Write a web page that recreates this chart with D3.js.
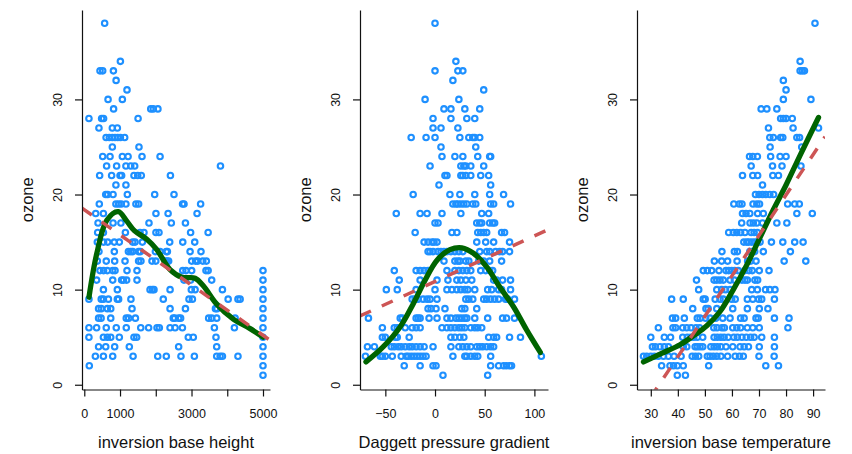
<!DOCTYPE html>
<html>
<head>
<meta charset="utf-8">
<script src="https://cdn.jsdelivr.net/npm/d3@7"></script>
<style>
body { margin: 0; background: #fff; }
text { font-family: "Liberation Sans", Arial, Helvetica, sans-serif; fill: #111; }
</style>
</head>
<body>
<script>
// each row: [ozone, [predictor values seen at that ozone level]]
var ibhRows = [
  [38, [570]], [34, [1010]], [33, [440, 515, 815]], [32, [890]], [31, [1195]],
  [30, [665, 1065]], [29, [820, 1860, 1930, 2060]], [28, [130, 485, 540, 1505]],
  [27, [410, 785, 925]], [26, [610, 700, 785, 860, 935, 1010, 1130]], [25, [785, 1530]],
  [24, [515, 720, 1065, 1225, 1615, 2120]], [23, [625, 905, 1165, 1300, 1410, 3810]],
  [22, [430, 765, 1000, 1045, 1390, 1495, 1595, 2410]], [21, [885, 1165]],
  [20, [600, 655, 805, 1205, 1970, 2510]],
  [19, [420, 885, 960, 1035, 1165, 1445, 1520, 2750, 2790, 3255]],
  [18, [320, 535, 2005, 2345, 3155]],
  [17, [385, 805, 1025, 1810, 2435, 2830]],
  [16, [375, 535, 1150, 1560, 1670, 2005, 2090, 2975, 3465]],
  [15, [365, 540, 655, 840, 980, 1355, 1420, 1625, 2390, 2755, 3090]],
  [14, [410, 840, 1235, 1300, 1355, 1520, 1570, 1990, 2120, 2295, 2325, 2960, 3265]],
  [13, [365, 615, 850, 1140, 1520, 1585, 1895, 2000, 2270, 2315, 2360, 3005, 3115, 3175, 3315, 3415]],
  [12, [440, 540, 645, 795, 860, 1195, 1475, 2755, 2845, 3005, 3405, 3465, 5000]],
  [11, [345, 795, 1045, 1095, 1185, 1475, 2790, 2975, 3565, 5000]],
  [10, [535, 925, 1840, 1905, 1950, 2400, 2995, 3100, 3865, 5000]],
  [9, [130, 475, 535, 675, 925, 960, 1305, 2210, 2930, 3025, 4025, 4300, 4360, 5000]],
  [8, [400, 475, 645, 740, 1335, 2400, 2830, 3670, 3715, 5000]],
  [7, [400, 470, 740, 1175, 1240, 1430, 2490, 2530, 2640, 2695, 3480, 3565, 3705, 4220, 5000]],
  [6, [130, 345, 615, 895, 1175, 1580, 1800, 2035, 2100, 2400, 2540, 2745, 3640, 4200, 5000]],
  [5, [130, 535, 645, 740, 980, 1390, 1465, 2910, 3050, 3685, 5000]],
  [4, [400, 600, 850, 1260, 2640, 3705, 5000]],
  [3, [310, 535, 795, 1365, 2055, 2295, 2705, 3080, 3705, 3800, 3865, 4300, 5000]],
  [2, [140, 5000]], [1, [5000]]
];

var dpgRows = [
  [38, [0]], [34, [21]], [33, [0, 23, 28]], [32, [18]], [31, [49]], [30, [-10, 24]],
  [29, [9, 16, 30, 45]], [28, [-2, 16, 32, 40]], [27, [-2, 6, 23]],
  [26, [-24, -9, 0, 25, 34, 38, 40, 45]], [25, [6, 41]], [24, [7, 20, 28, 43, 55, 56]],
  [23, [-5, 26, 29, 31, 36, 49]], [22, [10, 12, 26, 28, 31, 36, 46, 54]], [21, [4, 56]],
  [20, [-22, 15, 25, 40, 55, 69]],
  [19, [18, 21, 23, 26, 29, 32, 38, 41, 56, 59, 76]],
  [18, [-39, -15, -8, 7, 26, 47, 54]],
  [17, [0, 3, 42, 45, 47, 55, 58, 60]],
  [16, [-20, 17, 22, 43, 46, 49, 52, 67, 70]],
  [15, [-11, -7, -3, -1, 2, 42, 51, 59, 75]],
  [14, [-7, -5, -2, 3, 6, 9, 12, 16, 20, 24, 28, 45, 52, 55, 61, 65, 68, 75]],
  [13, [9, 20, 23, 25, 31, 34, 44, 49, 55, 67]],
  [12, [-41, -19, -15, -11, -7, 12, 20, 24, 28, 32, 36, 46, 51, 55, 58]],
  [11, [-36, -15, 2, 13, 22, 26, 31, 37, 59, 62, 68, 76]],
  [10, [-49, -38, -19, 0, 12, 17, 22, 26, 30, 33, 40, 53, 57, 64, 67, 76]],
  [9, [-23, -20, -17, -12, -8, -5, 2, 31, 34, 38, 49, 52, 56, 60, 64, 71, 73, 80]],
  [8, [-7, -4, 1, 10, 27, 30, 42]],
  [7, [-67, -35, -33, -19, -17, -15, -6, 2, 12, 16, 21, 24, 27, 30, 32, 40, 53, 68, 72, 80]],
  [6, [-53, -41, -38, -30, -23, -19, -15, 7, 12, 16, 20, 24, 27, 30, 36, 40, 43, 47]],
  [5, [-53, -50, -40, -38, -26, 16, 20, 25, 29, 54, 59, 62, 75, 86]],
  [4, [-68, -61, -44, -41, -37, -34, -30, -26, -23, -19, -15, -11, -2, 16, 24, 28, 32, 36, 42, 45, 48, 52, 56, 59]],
  [3, [-70, -55, -53, -50, -43, -34, -29, -27, -24, -21, -18, -15, -12, -9, 18, 30, 32, 36, 40, 43, 56, 107]],
  [2, [-31, -15, -2, 1, 56, 64, 69, 72, 75, 77]],
  [1, [8, 53]]
];

var ibtRows = [
  [38, [90.7]], [34, [85.2]], [33, [85.2, 86, 86.8]], [32, [79]], [31, [80]], [30, [79, 89.2]],
  [29, [70.8, 72.9, 76.6]], [28, [78, 79, 80, 82.3]], [27, [73.5, 82.6, 92]],
  [26, [74, 75.3, 78, 78.8, 84, 85]], [25, [74.1, 85.8]],
  [24, [66.5, 67.7, 69.4, 74.3, 77.8, 80]], [23, [67.1, 75, 78.5, 85.5]],
  [22, [63.9, 67.7, 69.5, 75.1, 77.2]], [21, [71.3]],
  [20, [68.7, 70, 71.3, 72.5, 74, 75.4]],
  [19, [60.7, 62.7, 63.7, 67.8, 69.2, 70.2, 80.6, 83.2, 84.9]],
  [18, [63.9, 65.2, 66.6, 69.5, 71.6, 84, 89.7]],
  [17, [63.6, 66.7, 67.9, 69.2, 71.3, 76.6, 80.3]],
  [16, [58.8, 60.5, 61.8, 63.2, 64.8, 67.1, 68.2, 69.4]],
  [15, [64.4, 65.5, 66.2, 67.3, 68.4, 69.4, 70.4, 74.6, 78.8, 83.2, 86.3]],
  [14, [56.3, 60.9, 62, 66.6, 67.4, 68.4, 71.6, 81.6]],
  [13, [53.5, 56.2, 58.4, 61.9, 65.8, 66.9, 68.9, 79.3, 87.3]],
  [12, [49.4, 50.9, 52.5, 55.2, 57.8, 58.8, 59.9, 61, 62.3, 64.7, 66.3, 67.5, 70.1, 73.7]],
  [11, [46.9, 53.4, 54.4, 55.6, 56.8, 59.3, 60.9, 63.7, 64.8, 65.7, 68.5, 69.5]],
  [10, [47.7, 54.4, 56.2, 57.6, 59.3, 67.3, 69.4, 72.4, 74, 75.9]],
  [9, [37.7, 42, 49.4, 50.1, 53.8, 55.6, 56.8, 59.9, 61.2, 65.7, 67.7, 69.9, 71, 75.7]],
  [8, [45.5, 50.4, 51.2, 54.4, 60.3, 65.7, 70.1, 73.3]],
  [7, [38, 39.2, 42.4, 47.2, 48.2, 50.3, 51.9, 54, 56.6, 59.3, 63.2, 64.5, 68.9, 69.7, 75.7, 81.1]],
  [6, [32.8, 38.2, 39.2, 41.8, 43.3, 44.9, 46.7, 48, 53.3, 54.5, 56.3, 57.2, 60.3, 61.8, 63.2, 65.7, 67.7, 70.1, 80.7]],
  [5, [30, 35, 37.3, 41.8, 43.5, 44.8, 45.9, 47.2, 49.2, 53.4, 54.6, 55.9, 57.1, 58.6, 60.7, 62, 63.7, 65.3, 66.9, 68.2, 71, 75.7]],
  [4, [30.6, 31.7, 33.4, 35, 36.5, 42, 43.3, 46.4, 47.2, 48.2, 49.2, 52.2, 53.4, 54.6, 55.9, 57.8, 60.3, 63, 64.5, 66.1, 70.1, 75.7]],
  [3, [27.3, 28.5, 30, 31.3, 32.8, 34.7, 36.5, 38.6, 41.2, 45.3, 46.5, 47.7, 50.9, 51.9, 53.1, 54.4, 55.9, 58.4, 61.2, 62.8, 64.2, 70, 75.6]],
  [2, [34, 37.1, 38.4, 39.8, 42, 51.4, 72.5, 77.2]],
  [1, [39.8, 42.8]]
];

// smooth fits (green)
var ibhSmooth = [[131, 9.2], [350, 13.8], [630, 17.3], [950, 18.2], [1190, 17.2], [1400, 16.2],
  [1750, 15.3], [2030, 14.2], [2400, 12.1], [2730, 11.3], [3100, 11.2], [3330, 10.4],
  [3700, 8.5], [4170, 6.9], [4640, 5.9], [5000, 5.0]];
var dpgSmooth = [[-69.5, 2.4], [-52, 4.0], [-35, 6.1], [-22, 8.5], [-10, 11], [2, 13.1],
  [15, 14.2], [27, 14.4], [39, 13.8], [52, 12.4], [65, 10.3], [79, 8.2], [92, 5.8], [106, 3.4]];
var ibtSmooth = [[27.3, 2.4], [34, 3.3], [40.8, 4.2], [46, 5.2], [50.7, 6.2], [55.6, 7.7],
  [60.5, 10], [65.5, 12.6], [70.4, 15.5], [75.3, 18.4], [80, 21], [85.5, 24.3], [92, 28.1]];

// least squares lines (red dashed): [intercept, slope]
var ibhFit = [18.4, -0.00264];
var dpgFit = [10.85, 0.048];
var ibtFit = [-14.05, 0.425];

var yTicks = [0, 10, 20, 30];

var panels = [
  {rows: ibhRows, smooth: ibhSmooth, fit: ibhFit, left: 82, domain: [-64, 5196],
   ticks: [0, 1000, 2000, 3000, 4000, 5000], labels: [0, 1000, 3000, 5000], title: "inversion base height"},
  {rows: dpgRows, smooth: dpgSmooth, fit: dpgFit, left: 360, domain: [-75.5, 113.7],
   ticks: [-50, 0, 50, 100], labels: [-50, 0, 50, 100], title: "Daggett pressure gradient"},
  {rows: ibtRows, smooth: ibtSmooth, fit: ibtFit, left: 637, domain: [24.9, 94.4],
   ticks: [30, 40, 50, 60, 70, 80, 90], labels: [30, 40, 50, 60, 70, 80, 90], title: "inversion base temperature"}
];

var W = 852, H = 454, pw = 188, plotTop = 10, plotBottom = 389.5;

var svg = d3.select("body").append("svg")
  .attr("width", W)
  .attr("height", H)
  .style("background", "#fff");

var y = d3.scaleLinear().domain([-0.5, 39.4]).range([plotBottom, plotTop]);

panels.forEach(function(p, i) {
  var x = d3.scaleLinear().domain(p.domain).range([p.left, p.left + pw]);

  svg.append("clipPath").attr("id", "clip" + i)
    .append("rect")
    .attr("x", p.left).attr("y", plotTop)
    .attr("width", pw).attr("height", plotBottom - plotTop);

  var pts = [];
  p.rows.forEach(function(r) {
    r[1].forEach(function(v) { pts.push([v, r[0]]); });
  });

  svg.append("g").selectAll("circle")
    .data(pts)
    .enter().append("circle")
    .attr("cx", function(d) { return x(d[0]); })
    .attr("cy", function(d) { return y(d[1]); })
    .attr("r", 2.75)
    .attr("fill", "none")
    .attr("stroke", "#1e90ff")
    .attr("stroke-width", 2.1);

  // smooth
  svg.append("path")
    .datum(p.smooth)
    .attr("fill", "none")
    .attr("stroke", "#006400")
    .attr("stroke-width", 5.3)
    .attr("stroke-linecap", "round")
    .attr("stroke-linejoin", "round")
    .attr("d", d3.line()
      .curve(d3.curveCatmullRom)
      .x(function(d) { return x(d[0]); })
      .y(function(d) { return y(d[1]); }));

  // linear fit
  var ends = p.domain.map(function(v) { return [v, p.fit[0] + p.fit[1] * v]; });
  svg.append("path")
    .datum(ends)
    .attr("clip-path", "url(#clip" + i + ")")
    .attr("fill", "none")
    .attr("stroke", "#cd5555")
    .attr("stroke-width", 3.5)
    .attr("stroke-dasharray", "12,12")
    .attr("d", d3.line()
      .x(function(d) { return x(d[0]); })
      .y(function(d) { return y(d[1]); }));

  // x axis
  var gx = svg.append("g")
    .attr("transform", "translate(0," + plotBottom + ")")
    .call(d3.axisBottom(x).tickValues(p.ticks).tickSize(7).tickSizeOuter(0)
      .tickFormat(function(d) { return p.labels.indexOf(d) >= 0 ? (d < 0 ? "\u2212" + (-d) : d) : ""; }));
  gx.selectAll("text").attr("y", 28).attr("dy", 0)
    .style("font-size", "12.5px").attr("fill", "#111");

  // y axis
  var gy = svg.append("g")
    .attr("transform", "translate(" + p.left + ",0)")
    .call(d3.axisLeft(y).tickValues(yTicks).tickSize(7).tickSizeOuter(0));
  gy.selectAll("text")
    .attr("x", null).attr("dy", 0)
    .attr("text-anchor", "middle")
    .attr("transform", "translate(-20.5,0) rotate(-90)")
    .style("font-size", "12.5px").attr("fill", "#111");

  svg.selectAll(".domain, .tick line").attr("stroke", "#111").attr("stroke-width", 1.2);

  svg.append("text")
    .attr("x", p.left + pw / 2)
    .attr("y", 448)
    .attr("text-anchor", "middle")
    .style("font-size", "16.5px")
    .text(p.title);

  svg.append("text")
    .attr("transform", "translate(" + (p.left - 49.5) + "," + ((plotTop + plotBottom) / 2) + ") rotate(-90)")
    .attr("text-anchor", "middle")
    .style("font-size", "16.5px")
    .text("ozone");
});
</script>
</body>
</html>
